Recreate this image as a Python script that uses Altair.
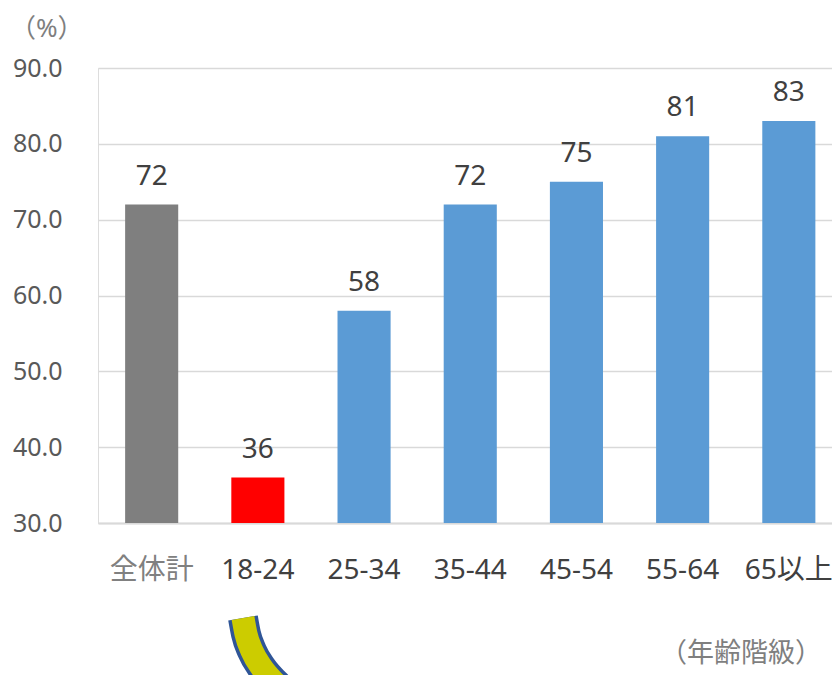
import altair as alt
import pandas as pd

categories = ["全体計", "18-24", "25-34", "35-44", "45-54", "55-64", "65以上"]
values = [72, 36, 58, 72, 75, 81, 83]
colors = ["#7f7f7f", "#ff0000", "#5b9bd5", "#5b9bd5", "#5b9bd5", "#5b9bd5", "#5b9bd5"]

# decorative curved arrow (pixel path inside the chart, not data)
arrow_x = [145, 148, 154, 164, 177, 190, 203]
arrow_y = [550, 566, 583, 600, 615, 627, 640]

df = pd.DataFrame({"cat": categories, "val": values, "color": colors})
arrow = pd.DataFrame({"x": arrow_x, "y": arrow_y, "o": list(range(len(arrow_x)))})

FONT = "'Noto Sans', 'Noto Sans CJK JP', sans-serif"

x = alt.X("cat:N", sort=categories, title=None,
          scale=alt.Scale(paddingInner=0.5, paddingOuter=0.206, align=0.62),
          axis=alt.Axis(labelAngle=0, labelFontSize=28, labelFont=FONT,
                        labelColor=alt.expr("datum.value == '全体計' ? '#808080' : '#404040'"),
                        labelPadding=33, ticks=False, domainColor="#d9d9d9", domainWidth=2))
y = alt.Y("val:Q", title=None,
          scale=alt.Scale(domain=[30, 90], nice=False, zero=False),
          axis=alt.Axis(values=[30, 40, 50, 60, 70, 80, 90], format=".1f",
                        labelFontSize=25, labelFont=FONT, labelColor="#595959",
                        labelPadding=36, ticks=False, domain=False,
                        gridColor="#d9d9d9", gridWidth=1.5))

bars = alt.Chart(df).mark_bar().encode(
    x=x, y=y, y2=alt.datum(30), color=alt.Color("color:N", scale=None)
)
labels = alt.Chart(df).mark_text(dy=-20, baseline="alphabetic", fontSize=28,
                                  font=FONT, color="#404040").encode(
    x=alt.X("cat:N", sort=categories), y="val:Q", text="val:Q"
)

pct = alt.Chart(pd.DataFrame({"t": ["（%）"]})).mark_text(
    fontSize=26, font=FONT, color="#7f7f7f", align="left", baseline="middle"
).encode(x=alt.value(-88), y=alt.value(-39), text="t:N")

xunit = alt.Chart(pd.DataFrame({"t": ["（年齢階級）"]})).mark_text(
    fontSize=27, font=FONT, color="#7f7f7f", align="right", baseline="middle"
).encode(x=alt.value(724), y=alt.value(586), text="t:N")

arrow_outer = alt.Chart(arrow).mark_line(color="#2f5597", strokeWidth=30,
                                         strokeCap="butt", interpolate="monotone").encode(
    x=alt.X("x:Q", scale=None), y=alt.Y("y:Q", scale=None), order="o:Q")
arrow_inner = alt.Chart(arrow).mark_line(color="#cccc00", strokeWidth=23,
                                         strokeCap="butt", interpolate="monotone").encode(
    x=alt.X("x:Q", scale=None), y=alt.Y("y:Q", scale=None), order="o:Q")

chart = alt.layer(bars, labels, pct, xunit, arrow_outer, arrow_inner).properties(
    width=734, height=455,
    autosize=alt.AutoSizeParams(type="none"),
    padding={"left": 90, "top": 60, "right": 0, "bottom": 152},
).configure_view(stroke=None).configure(background="white")

chart.save("out.html", embed_options={"renderer": "svg", "actions": False})
